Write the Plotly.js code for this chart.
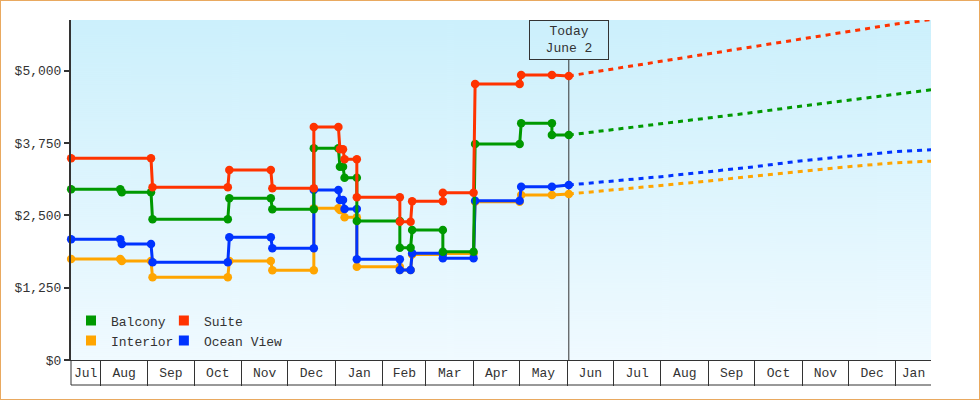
<!DOCTYPE html>
<html><head><meta charset="utf-8">
<script src="https://cdn.plot.ly/plotly-3.0.1.min.js"></script>
<style>
html,body{margin:0;padding:0;background:#fff;}
#chart{width:980px;height:400px;box-sizing:border-box;border:1px solid #e9a960;}
</style></head><body><div id="chart"></div>
<script>
// ---------- data ----------
const seriesNames = ['Balcony', 'Interior', 'Suite', 'Ocean View'];

const balconyDates = ['2012-07-13','2012-08-14','2012-08-15','2012-09-03','2012-09-04','2012-10-23','2012-10-24','2012-11-20','2012-11-21','2012-12-18','2012-12-18','2013-01-03','2013-01-04','2013-01-06','2013-01-07','2013-01-15','2013-01-15','2013-02-12','2013-02-12','2013-02-19','2013-02-20','2013-03-12','2013-03-12','2013-04-01','2013-04-02','2013-05-01','2013-05-02','2013-05-22','2013-05-22','2013-06-02'];
const balconyPrices = [2950,2950,2898,2898,2431,2431,2794,2794,2604,2604,3658,3658,3340,3340,3150,3150,2402,2402,1941,1941,2246,2246,1871,1871,3733,3733,4090,4090,3888,3888];

const interiorDates = ['2012-07-13','2012-08-14','2012-08-15','2012-09-03','2012-09-04','2012-10-23','2012-10-24','2012-11-20','2012-11-21','2012-12-18','2012-12-18','2013-01-03','2013-01-04','2013-01-06','2013-01-07','2013-01-15','2013-01-15','2013-02-12','2013-02-12','2013-02-19','2013-02-20','2013-03-12','2013-03-12','2013-04-01','2013-04-02','2013-05-01','2013-05-02','2013-05-22','2013-06-02'];
const interiorPrices = [1745,1745,1711,1711,1429,1429,1711,1711,1550,1550,2621,2621,2592,2592,2466,2466,1612,1612,1555,1555,1823,1823,1840,1840,2735,2735,2851,2851,2868];

const suiteDates = ['2012-07-13','2012-09-03','2012-09-04','2012-10-23','2012-10-24','2012-11-20','2012-11-21','2012-12-18','2012-12-18','2013-01-03','2013-01-04','2013-01-06','2013-01-07','2013-01-15','2013-01-15','2013-02-12','2013-02-12','2013-02-19','2013-02-20','2013-03-12','2013-03-12','2013-04-01','2013-04-02','2013-05-01','2013-05-02','2013-05-22','2013-06-02'];
const suitePrices = [3485,3485,2984,2984,3283,3283,2967,2967,4026,4026,3641,3641,3468,3468,2812,2812,2390,2390,2742,2742,2891,2891,4769,4769,4925,4925,4908];

const oceanDates = ['2012-07-13','2012-08-14','2012-08-15','2012-09-03','2012-09-04','2012-10-23','2012-10-24','2012-11-20','2012-11-21','2012-12-18','2012-12-18','2013-01-03','2013-01-04','2013-01-06','2013-01-07','2013-01-15','2013-01-15','2013-02-12','2013-02-12','2013-02-19','2013-02-20','2013-03-12','2013-03-12','2013-04-01','2013-04-02','2013-05-01','2013-05-02','2013-05-22','2013-06-02'];
const oceanPrices = [2086,2086,2004,2004,1688,1688,2120,2120,1930,1930,2938,2938,2765,2765,2609,2609,1740,1740,1555,1555,1844,1844,1757,1757,2753,2753,2995,2995,3024];

const forecastDates = ['2013-06-02','2013-07-01','2013-08-01','2013-09-01','2013-10-01','2013-11-01','2013-12-01','2014-01-01','2014-01-24'];
const balconyForecast  = [3888,3980,4084,4182,4280,4389,4493,4597,4670];
const interiorForecast = [2868,2938,3012,3093,3180,3266,3340,3409,3436];
const suiteForecast    = [4908,5029,5155,5288,5414,5542,5673,5806,5885];
const oceanForecast    = [3024,3093,3168,3254,3340,3444,3525,3600,3632];

const monthStarts = ['2012-07-01','2012-08-01','2012-09-01','2012-10-01','2012-11-01','2012-12-01','2013-01-01','2013-02-01','2013-03-01','2013-04-01','2013-05-01','2013-06-01','2013-07-01','2013-08-01','2013-09-01','2013-10-01','2013-11-01','2013-12-01','2014-01-01'];
const monthLabels = ['Jul','Aug','Sep','Oct','Nov','Dec','Jan','Feb','Mar','Apr','May','Jun','Jul','Aug','Sep','Oct','Nov','Dec','Jan'];

const todayDate = '2013-06-02';
const todayLabel = 'Today<br>June 2';

// ---------- styles ----------
const colors = {Balcony:'#009900', Interior:'#ffa500', Suite:'#ff3300', 'Ocean View':'#0033ff'};
const xRange = ['2012-07-12 22:00', '2014-01-23 19:00'];
const font = 'Liberation Mono, DejaVu Sans Mono, monospace';
const ink = '#333333';

function toMs(s){ const p = s.split(' '); return Date.parse(p[0] + 'T' + (p[1] || '00:00') + ':00Z'); }
function toStr(ms){ return new Date(ms).toISOString().slice(0,19).replace('T',' '); }

const r0 = toMs(xRange[0]), r1 = toMs(xRange[1]);
const tickvals = monthStarts.map(s => {
  const d = new Date(toMs(s));
  const next = Date.UTC(d.getUTCFullYear(), d.getUTCMonth() + 1, 1);
  const a = Math.max(d.getTime(), r0), b = Math.min(next, r1);
  return toStr((a + b) / 2);
});

// gradient background
const cv = document.createElement('canvas');
cv.width = 8; cv.height = 340;
const cx = cv.getContext('2d');
const g = cx.createLinearGradient(0, 0, 0, 340);
g.addColorStop(0, '#ccf0fc');
g.addColorStop(1, '#f0faff');
cx.fillStyle = g; cx.fillRect(0, 0, 8, 340);
const bgURL = cv.toDataURL('image/png');

const actual = [
  ['Interior', interiorDates, interiorPrices],
  ['Ocean View', oceanDates, oceanPrices],
  ['Balcony', balconyDates, balconyPrices],
  ['Suite', suiteDates, suitePrices]
];
const forecast = [
  ['Interior', interiorForecast],
  ['Ocean View', oceanForecast],
  ['Balcony', balconyForecast],
  ['Suite', suiteForecast]
];

const traces = [];
forecast.forEach(([name, vals]) => traces.push({
  type:'scatter', mode:'lines', x: forecastDates, y: vals, name: name + ' forecast',
  line:{color: colors[name], width:3, dash:'5px,5px'}, showlegend:false, hoverinfo:'skip'
}));
actual.forEach(([name, xs, ys]) => traces.push({
  type:'scatter', mode:'lines+markers', x: xs, y: ys, name: name,
  line:{color: colors[name], width:3}, marker:{color: colors[name], size:8.5, symbol:'circle'},
  showlegend:false, cliponaxis:false
}));
// legend entries
[['Balcony','legend'],['Interior','legend'],['Suite','legend2'],['Ocean View','legend2']].forEach(([name, lg]) => traces.push({
  type:'scatter', mode:'markers', x:[null], y:[null], name: name, legend: lg,
  marker:{symbol:'square', size:10, color: colors[name]}, showlegend:true, hoverinfo:'skip'
}));

const boxY = -25/340;
const layout = {
  width:978, height:398,
  margin:{l:70, r:48, t:19, b:39},
  paper_bgcolor:'#ffffff', plot_bgcolor:'#ffffff',
  font:{family: font, size:13, color: ink},
  showlegend:true,
  xaxis:{
    type:'date', range: xRange, tickmode:'array', tickvals: tickvals, ticktext: monthLabels,
    ticks:'outside', ticklen:0, tickcolor:'rgba(0,0,0,0)',
    showline:true, linecolor: ink, linewidth:1, showgrid:false, zeroline:false,
    tickfont:{family: font, size:13, color: ink},
    minor:{tickmode:'linear', tick0:'2012-08-01', dtick:'M1', ticks:'outside', ticklen:25, tickwidth:1, tickcolor: ink, showgrid:false}
  },
  yaxis:{
    range:[0, 5875], tickmode:'linear', tick0:0, dtick:1250, tickprefix:'$', tickformat:',d',
    ticks:'outside', ticklen:5, tickwidth:2, tickcolor: ink,
    showline:true, linewidth:2, linecolor: ink, showgrid:false, zeroline:false,
    tickfont:{family: font, size:13, color: ink}
  },
  legend:{x:0.0, y:0.16, xanchor:'left', yanchor:'top', bgcolor:'rgba(0,0,0,0)', borderwidth:0,
    font:{family: font, size:13, color: ink}, itemwidth:30, tracegroupgap:0},
  legend2:{x:0.108, y:0.16, xanchor:'left', yanchor:'top', bgcolor:'rgba(0,0,0,0)', borderwidth:0,
    font:{family: font, size:13, color: ink}, itemwidth:30, tracegroupgap:0},
  images:[{source: bgURL, xref:'paper', yref:'paper', x:0, y:1, sizex:1, sizey:1, xanchor:'left', yanchor:'top', sizing:'stretch', layer:'below'}],
  shapes:[
    {type:'line', xref:'x', yref:'paper', x0: todayDate, x1: todayDate, y0:0, y1:300/340, line:{color: ink, width:1}, layer:'below'},
    {type:'line', xref:'paper', yref:'paper', x0:0, x1:1, y0: boxY, y1: boxY, line:{color: ink, width:1}},
    {type:'line', xref:'paper', yref:'paper', x0:0, x1:0, y0: boxY, y1: 0, line:{color: ink, width:1}}
  ],
  annotations:[{
    xref:'x', yref:'paper', x: todayDate, y:1, xanchor:'center', yanchor:'top',
    text: todayLabel, showarrow:false, bordercolor: ink, borderwidth:1, borderpad:1,
    width:76, height:36, bgcolor:'rgba(0,0,0,0)', font:{family: font, size:13, color: ink}
  }]
};

Plotly.newPlot('chart', traces, layout, {displayModeBar:false, staticPlot:true});
</script></body></html>
